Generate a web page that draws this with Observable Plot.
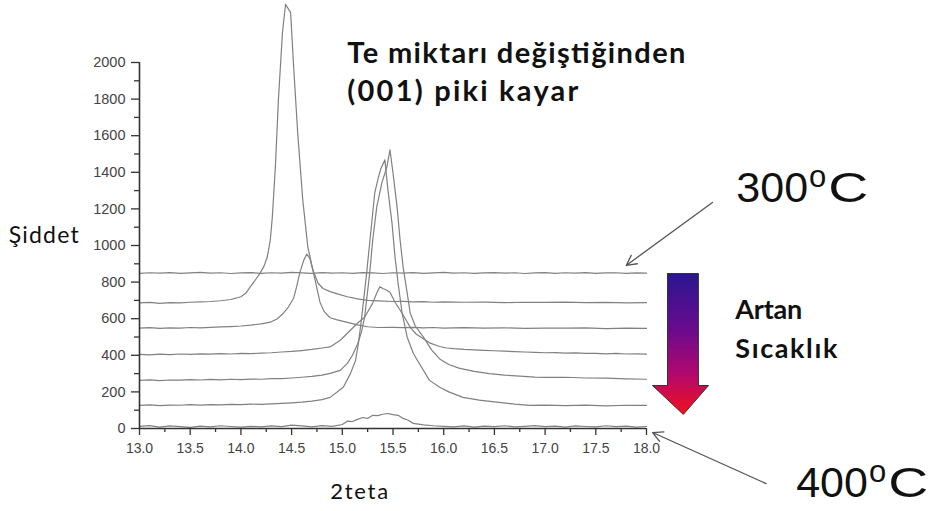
<!DOCTYPE html>
<html><head><meta charset="utf-8">
<script src="https://cdn.jsdelivr.net/npm/d3@7"></script>
<script src="https://cdn.jsdelivr.net/npm/@observablehq/plot@0.6"></script>
<style>body{margin:0;background:#fff}svg{display:block}</style>
</head><body><div id="chart"></div>
<script>
// ---- tick labels ----
const xTicks = [13.0, 13.5, 14.0, 14.5, 15.0, 15.5, 16.0, 16.5, 17.0, 17.5, 18.0];
const xMinorTicks = [13.25, 13.75, 14.25, 14.75, 15.25, 15.75, 16.25, 16.75, 17.25, 17.75];
const yTicks = [0, 200, 400, 600, 800, 1000, 1200, 1400, 1600, 1800, 2000];
const yMinorTicks = [100, 300, 500, 700, 900, 1100, 1300, 1500, 1700, 1900];

// ---- series: [2theta, intensity] ----
const curve300C = [[13.0,848],[13.1,851],[13.2,849],[13.3,852],[13.4,848],[13.5,850],[13.6,853],[13.7,849],[13.8,851],[13.9,847],[14.0,850],[14.1,852],[14.2,848],[14.3,851],[14.4,849],[14.5,853],[14.6,850],[14.7,848],[14.8,852],[14.9,849],[15.0,851],[15.1,848],[15.2,852],[15.3,850],[15.4,847],[15.5,851],[15.6,849],[15.7,852],[15.8,848],[15.9,850],[16.0,853],[16.1,849],[16.2,851],[16.3,848],[16.4,850],[16.5,852],[16.6,849],[16.7,851],[16.8,847],[16.9,850],[17.0,852],[17.1,848],[17.2,851],[17.3,849],[17.4,852],[17.5,848],[17.6,850],[17.7,851],[17.8,848],[17.9,850],[18.0,849]];
const curve2 = [[13.0,686],[13.1,689],[13.2,684],[13.3,688],[13.4,687],[13.5,690],[13.6,692],[13.7,694],[13.8,698],[13.9,705],[13.95,712],[14.0,720],[14.05,740],[14.09,773],[14.14,810],[14.19,849],[14.23,890],[14.26,937],[14.29,1030],[14.31,1156],[14.34,1430],[14.37,1797],[14.41,2164],[14.44,2318],[14.46,2300],[14.49,2274],[14.52,1978],[14.56,1616],[14.61,1249],[14.66,992],[14.71,866],[14.76,795],[14.81,765],[14.88,748],[14.95,736],[15.05,720],[15.15,708],[15.25,700],[15.35,697],[15.5,694],[15.6,695],[15.7,692],[15.8,693],[15.9,690],[16.0,692],[16.2,690],[16.4,691],[16.6,688],[16.8,690],[17.0,689],[17.2,691],[17.4,688],[17.6,689],[17.8,687],[18.0,688]];
const curve3 = [[13.0,548],[13.1,551],[13.2,547],[13.3,550],[13.4,549],[13.5,552],[13.6,550],[13.7,553],[13.8,555],[13.9,557],[14.0,560],[14.1,565],[14.2,572],[14.29,581],[14.36,600],[14.42,630],[14.47,665],[14.52,712],[14.55,775],[14.58,849],[14.62,920],[14.65,953],[14.68,930],[14.71,866],[14.74,790],[14.78,690],[14.82,640],[14.88,605],[14.95,594],[15.05,580],[15.15,566],[15.25,556],[15.35,552],[15.5,553],[15.6,551],[15.7,553],[15.8,550],[15.9,552],[16.0,549],[16.2,551],[16.4,548],[16.6,550],[16.8,547],[17.0,549],[17.2,548],[17.4,550],[17.6,546],[17.8,548],[18.0,547]];
const curve4 = [[13.0,405],[13.1,402],[13.2,406],[13.3,404],[13.4,407],[13.5,405],[13.6,408],[13.7,406],[13.8,409],[13.9,407],[14.0,410],[14.1,409],[14.2,412],[14.3,414],[14.4,418],[14.5,421],[14.6,426],[14.7,432],[14.8,440],[14.88,446],[14.98,482],[15.08,537],[15.15,575],[15.22,608],[15.3,685],[15.34,740],[15.37,775],[15.4,765],[15.43,758],[15.47,745],[15.52,690],[15.59,630],[15.67,553],[15.73,515],[15.8,490],[15.86,468],[15.96,448],[16.03,440],[16.1,436],[16.2,432],[16.3,430],[16.4,427],[16.5,425],[16.6,423],[16.7,420],[16.8,418],[16.9,416],[17.0,414],[17.1,415],[17.2,412],[17.3,413],[17.4,410],[17.5,411],[17.6,408],[17.7,410],[17.8,407],[17.9,408],[18.0,406]];
const curve5 = [[13.0,263],[13.1,266],[13.2,262],[13.3,265],[13.4,264],[13.5,267],[13.6,265],[13.7,268],[13.8,266],[13.9,269],[14.0,267],[14.1,270],[14.2,269],[14.3,272],[14.4,273],[14.5,276],[14.6,280],[14.7,285],[14.8,292],[14.88,301],[14.98,318],[15.05,356],[15.1,400],[15.15,460],[15.19,530],[15.22,608],[15.27,849],[15.3,1030],[15.34,1211],[15.39,1342],[15.44,1430],[15.47,1523],[15.5,1397],[15.54,1211],[15.57,1030],[15.6,882],[15.64,740],[15.67,630],[15.72,560],[15.8,499],[15.88,430],[15.96,380],[16.05,350],[16.15,330],[16.3,312],[16.45,300],[16.6,292],[16.75,286],[16.9,281],[17.0,279],[17.2,280],[17.4,276],[17.6,275],[17.8,271],[18.0,269]];
const curve6 = [[13.0,126],[13.1,129],[13.2,125],[13.3,128],[13.4,127],[13.5,130],[13.6,128],[13.7,131],[13.8,129],[13.9,132],[14.0,130],[14.1,133],[14.2,132],[14.3,135],[14.4,137],[14.5,140],[14.6,144],[14.7,150],[14.8,158],[14.88,170],[15.01,225],[15.08,300],[15.13,370],[15.16,470],[15.19,600],[15.24,849],[15.29,1123],[15.32,1288],[15.35,1359],[15.38,1420],[15.42,1468],[15.45,1304],[15.49,1123],[15.52,937],[15.55,795],[15.59,630],[15.64,499],[15.7,411],[15.74,373],[15.86,263],[15.96,225],[16.05,200],[16.19,170],[16.35,155],[16.5,145],[16.7,133],[16.85,126],[17.0,128],[17.2,125],[17.4,128],[17.6,124],[17.8,127],[18.0,126]];
const curve400C = [[13.0,12],[13.1,16],[13.2,8],[13.3,14],[13.4,10],[13.5,6],[13.6,13],[13.7,9],[13.8,15],[13.9,11],[14.0,7],[14.1,12],[14.2,9],[14.3,14],[14.4,10],[14.5,18],[14.6,14],[14.7,9],[14.8,16],[14.9,12],[15.0,22],[15.05,40],[15.1,38],[15.15,50],[15.2,60],[15.25,55],[15.3,72],[15.35,70],[15.4,78],[15.45,82],[15.5,76],[15.55,72],[15.6,55],[15.65,45],[15.7,28],[15.8,20],[15.9,15],[16.0,12],[16.1,9],[16.2,14],[16.3,8],[16.4,13],[16.5,10],[16.6,15],[16.7,9],[16.8,12],[16.9,16],[17.0,10],[17.1,13],[17.2,8],[17.3,14],[17.4,11],[17.5,9],[17.6,15],[17.7,10],[17.8,13],[17.9,8],[18.0,11]];

const seriesNames = ["300°C", "s2", "s3", "s4", "s5", "s6", "400°C"];
const seriesPoints = [curve300C, curve2, curve3, curve4, curve5, curve6, curve400C];
const rows = seriesPoints.flatMap((pts, i) => pts.map(([t, v]) => ({series: seriesNames[i], t, v})));

// annotation anchors in data space (2theta, intensity)
const titleLines = [
  {text: "Te miktarı değiştiğinden", t: 15.05, v: 2000},
  {text: "(001) piki kayar", t: 15.05, v: 1787}
];
const sideLabels = [
  {text: "Artan", t: 18.876, v: 601},
  {text: "Sıcaklık", t: 18.876, v: 383}
];
const tempLabels = [
  {text: "300oC", t: 18.886, v: 1235},
  {text: "400oC", t: 19.476, v: -372}
];
const tempArrows = [
  {x1: 18.65, y1: 1235, x2: 17.80, y2: 891},
  {x1: 19.18, y1: -301, x2: 18.06, y2: -22}
];
const bigArrow = [
  {x: 18.207, y: 847}, {x: 18.512, y: 847}, {x: 18.512, y: 235}, {x: 18.612, y: 235},
  {x: 18.363, y: 77}, {x: 18.059, y: 235}, {x: 18.207, y: 235}, {x: 18.207, y: 847}
];

const defsMark = () => {
  const defs = d3.create("svg:defs");
  const g = defs.append("linearGradient").attr("id", "tempGrad").attr("x1", 0).attr("y1", 0).attr("x2", 0).attr("y2", 1);
  g.append("stop").attr("offset", "0%").attr("stop-color", "#2a1690");
  g.append("stop").attr("offset", "40%").attr("stop-color", "#6a0a8e");
  g.append("stop").attr("offset", "72%").attr("stop-color", "#b4086c");
  g.append("stop").attr("offset", "100%").attr("stop-color", "#f2101c");
  return defs.node();
};

const sans = "'Liberation Sans', Arial, sans-serif";
const cal = "Lato, 'Open Sans', sans-serif";

const svg = Plot.plot({
  width: 935, height: 511,
  marginLeft: 139, marginRight: 289, marginTop: 62, marginBottom: 83,
  style: {fontFamily: sans, color: "#333", background: "#fff", overflow: "visible"},
  x: {domain: [13, 18]},
  y: {domain: [0, 2000]},
  marks: [
    defsMark,
    Plot.line(rows, {x: "t", y: "v", z: "series", stroke: "#808080", strokeWidth: 1.2}),
    Plot.axisX({ticks: xTicks, tickFormat: d3.format(".1f"), tickSize: 7, tickPadding: 8, fontSize: 14, label: null, stroke: "#333", strokeWidth: 1.3, fill: "#444"}),
    Plot.axisX({ticks: xMinorTicks, tickFormat: () => "", tickSize: 4, label: null, stroke: "#333", strokeWidth: 1.3}),
    Plot.axisY({ticks: yTicks, tickFormat: d3.format("d"), tickSize: 8, tickPadding: 6, fontSize: 14.5, label: null, stroke: "#333", strokeWidth: 1.3, fill: "#444"}),
    Plot.axisY({ticks: yMinorTicks, tickFormat: () => "", tickSize: 5, label: null, stroke: "#333", strokeWidth: 1.3}),
    Plot.ruleY([0], {x1: 13, x2: 18, stroke: "#333", strokeWidth: 1.6}),
    Plot.ruleX([13], {y1: 0, y2: 2000, stroke: "#333", strokeWidth: 1.6}),
    Plot.text(["Şiddet"], {x: 11.71, y: 1011, text: d => d, textAnchor: "start", lineAnchor: "bottom", fontFamily: cal, fontSize: 23, fill: "#111"}),
    Plot.text(["2teta"], {x: 14.88, y: -383, text: d => d, textAnchor: "start", lineAnchor: "bottom", fontFamily: cal, fontSize: 22, fill: "#111"}),
    Plot.text(titleLines, {x: "t", y: "v", text: "text", textAnchor: "start", lineAnchor: "bottom", fontFamily: cal, fontWeight: "bold", fontSize: 29, fill: "#111"}),
    Plot.text(sideLabels, {x: "t", y: "v", text: "text", textAnchor: "start", lineAnchor: "bottom", fontFamily: cal, fontWeight: "bold", fontSize: 27, fill: "#111"}),
    Plot.text(tempLabels, {x: "t", y: "v", text: "text", textAnchor: "start", lineAnchor: "bottom", fontFamily: sans, fontSize: 43, fill: "#111"}),
    Plot.arrow(tempArrows, {x1: "x1", y1: "y1", x2: "x2", y2: "y2", stroke: "#555", strokeWidth: 1.3, headLength: 13, headAngle: 55}),
    Plot.line(bigArrow, {x: "x", y: "y", fill: "url(#tempGrad)", stroke: "#333", strokeWidth: 1, curve: "linear"})
  ]
});

// text widths as set in the original (letter spacing)
const textWidths = {
  "Te miktarı değiştiğinden": 338,
  "(001) piki kayar": 231,
  "Artan": 67,
  "Sıcaklık": 102,
  "Şiddet": 70,
  "2teta": 58
};
const ns = "http://www.w3.org/2000/svg";
svg.querySelectorAll("text").forEach(el => {
  const s = el.textContent;
  if (textWidths[s]) {
    el.setAttribute("textLength", textWidths[s]);
    el.setAttribute("lengthAdjust", "spacing");
  }
  const m = /^(\d+)oC$/.exec(s);
  if (!m) return;
  el.textContent = "";
  const a = document.createElementNS(ns, "tspan"); a.textContent = m[1];
  const b = document.createElementNS(ns, "tspan"); b.textContent = "o";
  b.setAttribute("font-size", "31"); b.setAttribute("dy", "-15"); b.setAttribute("dx", "1");
  const c = document.createElementNS(ns, "tspan"); c.textContent = "C";
  c.setAttribute("dy", "15"); c.setAttribute("dx", "2");
  c.setAttribute("textLength", "40"); c.setAttribute("lengthAdjust", "spacingAndGlyphs");
  el.append(a, b, c);
});

document.getElementById("chart").appendChild(svg);
</script>
</body></html>
